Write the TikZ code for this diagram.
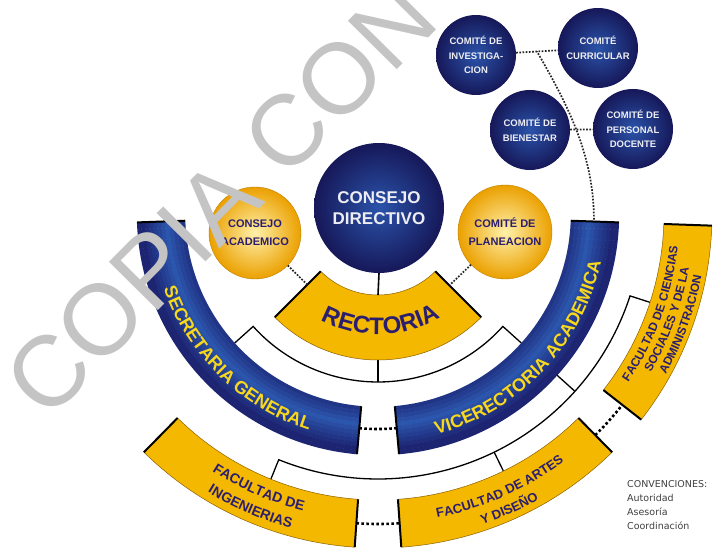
\documentclass[tikz,border=0pt]{standalone}
\usepackage{fontspec}
\setmainfont{Liberation Sans}
\newfontfamily\leyfont{DejaVu Sans}
\usetikzlibrary{decorations.text}
\usetikzlibrary{calc}
\definecolor{azul}{HTML}{1A1C68}
\definecolor{azulclaro}{HTML}{3066C0}
\definecolor{oro}{HTML}{F5B800}
\definecolor{oroclaro}{HTML}{FFF1AA}
\definecolor{ororojo}{HTML}{EBA000}
\definecolor{morado}{HTML}{2B1E6E}
\definecolor{amarillo}{HTML}{F8D81C}
\definecolor{gris}{HTML}{C4C4C4}
\tikzstyle{azulcirc} = [circle, inner sep=0pt, inner color=azulclaro!75!azul, outer color=azul!85!black,
                        text=white!92!azul, align=center, font=\bfseries]
\tikzstyle{orocirc} = [circle, inner sep=0pt, draw=ororojo!80!black, thin, inner color=oroclaro,
                       outer color=ororojo, text=morado, align=center,
                       font=\fontsize{11}{18}\selectfont\bfseries]
\tikzstyle{comite} = [azulcirc, minimum size=80pt, font=\fontsize{9.5}{14.5}\selectfont\bfseries]
\tikzstyle{autoridad} = [line width=1.3pt, black]
\tikzstyle{coord} = [line width=2.6pt, black, dash pattern=on 2.6pt off 2.4pt]
\tikzstyle{asesor} = [line width=1.7pt, black!85, dash pattern=on 1.7pt off 1.5pt]
\tikzstyle{franjaoro} = [fill=oro, draw=ororojo!60!black, line width=0.5pt]
\tikzstyle{extremo} = [line width=2pt, black]
\tikzstyle{marca} = [text=gris, font=\fontsize{100}{100}\selectfont, inner sep=0pt, anchor=base west, rotate=45.3]
\newcommand{\franja}[5]{%
  \path[#1] (#4:#2) arc[start angle=#4, end angle=#5, radius=#2] -- (#5:#3)
    arc[start angle=#5, end angle=#4, radius=#3] -- cycle;
  \draw[extremo] (#4:#2) -- (#4:#3) (#5:#2) -- (#5:#3);}
\newcommand{\franjaazul}[4]{%
  \foreach \k [evaluate=\k as \p using {int(max(12,78-11*abs(\k-4)))}] in {0,...,11}
    \draw[line width=4.4pt, azulclaro!\p!azul] ({#3}:{#1+2+4*\k}) arc[start angle=#3, end angle=#4, radius=#1+2+4*\k];
  \draw[extremo] (#3:#1) -- (#3:#2) (#4:#1) -- (#4:#2);}
\newcommand{\rotulo}[5]{%
  \path[decorate, decoration={text along path, text align=center, text={|#4|#5}}]
    (#2:#1) arc[start angle=#2, end angle=#3, radius=#1];}
\newcommand{\ftazul}{\fontsize{18}{18}\selectfont\bfseries\color{amarillo}}
\newcommand{\ftrect}{\fontsize{24}{24}\selectfont\bfseries\color{morado}}
\newcommand{\ftfac}{\fontsize{14}{14}\selectfont\bfseries\color{morado}}
\newcommand{\ftart}{\fontsize{13}{13}\selectfont\bfseries\color{morado}}
\newcommand{\ftcie}{\fontsize{12}{12}\selectfont\bfseries\color{morado}}

\begin{document}
\begin{tikzpicture}[x=1pt, y=1pt]
  \useasboundingbox (0,0) rectangle (715,554);
  \fill[white] (0,0) rectangle (715,554);
  \coordinate (ctr) at (378,340);
  \begin{scope}[shift={(ctr)}]
    \coordinate (sgA) at (222:193); \coordinate (vaA) at (318:193); \coordinate (reB) at (270:146);
    \coordinate (inA) at (248:286); \coordinate (arA) at (296:286); \coordinate (ciA) at (342:286);
    \coordinate (vaB) at (318:241); \coordinate (vaT) at (358.5:216);
    \coordinate (reL) at (225:100); \coordinate (reR) at (315:101); \coordinate (reT) at (270:81);
    \draw[autoridad] (sgA) -- (222:168) arc[start angle=222, end angle=318, radius=168] -- (vaA);
    \draw[autoridad] (reB) -- (270:168);
    \draw[autoridad] (inA) -- (248:265) arc[start angle=248, end angle=342, radius=265] -- (ciA);
    \draw[autoridad] (arA) -- (296:265);
    \draw[autoridad] (vaB) -- (318:265);
    \draw[coord] (265:215) arc[start angle=265, end angle=275, radius=215];
    \draw[coord] (266:310) arc[start angle=266, end angle=274, radius=310];
    \draw[coord] (314.5:310) arc[start angle=314.5, end angle=322, radius=310];
    \franja{franjaoro}{81}{146}{225}{315}
    \franjaazul{193}{241}{182}{265}
    \franjaazul{193}{241}{275}{358}
    \franja{franjaoro}{286}{334}{225.5}{266}
    \franja{franjaoro}{286}{334}{274}{314.5}
    \franja{franjaoro}{286}{334}{322}{358}
    \rotulo{227}{185}{266.5}{\ftazul}{SECRETARIA GENERAL}
    \rotulo{228}{276}{356.8}{\ftazul}{VICERECTORIA ACADEMICA}
    \rotulo{120.5}{226}{317}{\ftrect}{RECTORIA}
    \rotulo{306}{227}{266}{\ftfac}{FACULTAD DE}
    \rotulo{326}{227}{266}{\ftfac}{INGENIERIAS}
    \rotulo{309.5}{275}{313}{\ftart}{FACULTAD DE ARTES}
    \rotulo{327.5}{275}{313}{\ftart}{Y DISEÑO}
    \rotulo{301.5}{323}{357}{\ftcie}{FACULTAD DE CIENCIAS}
    \rotulo{315.5}{323}{357}{\ftcie}{SOCIALES Y DE LA}
    \rotulo{329.5}{323}{357}{\ftcie}{ADMINISTRACION}
  \end{scope}
  \node[azulcirc, minimum size=130pt, font=\fontsize{17}{21}\selectfont\bfseries] (dir) at (379,346) {CONSEJO\\DIRECTIVO};
  \node[orocirc, minimum size=92pt] (acad) at (255,321) {CONSEJO\\ACADEMICO};
  \node[orocirc, minimum size=94pt] (plan) at (505,322) {COMITÉ DE\\PLANEACION};
  \node[comite] (inv) at (476,499) {COMITÉ DE\\INVESTIGA-\\CION};
  \node[comite] (cur) at (598,506) {COMITÉ\\CURRICULAR};
  \node[comite] (bien) at (530,424) {COMITÉ DE\\BIENESTAR};
  \node[comite] (pers) at (633,425) {COMITÉ DE\\PERSONAL\\DOCENTE};
  \coordinate (ic) at ($(inv)!0.5!(cur)$);
  \draw[autoridad, line width=1.6pt] (dir.south) -- (reT);
  \draw[asesor] (acad) -- (reL);
  \draw[asesor] (plan) -- (reR);
  \draw[asesor] (inv) -- (cur);
  \draw[asesor] (bien) -- (pers);
  \draw[asesor] (vaT) .. controls (594,400) and (566,452) .. (ic);
  \node[anchor=north west, align=left, inner sep=0pt, text=black!75,
        font=\leyfont\fontsize{9.5}{14}\selectfont] (conv) at (627,74) {CONVENCIONES:\\Autoridad\\Asesoría\\Coordinación};
  \node[marca] (copia) at (47,131) {COPIA CON};
\end{tikzpicture}
\end{document}
